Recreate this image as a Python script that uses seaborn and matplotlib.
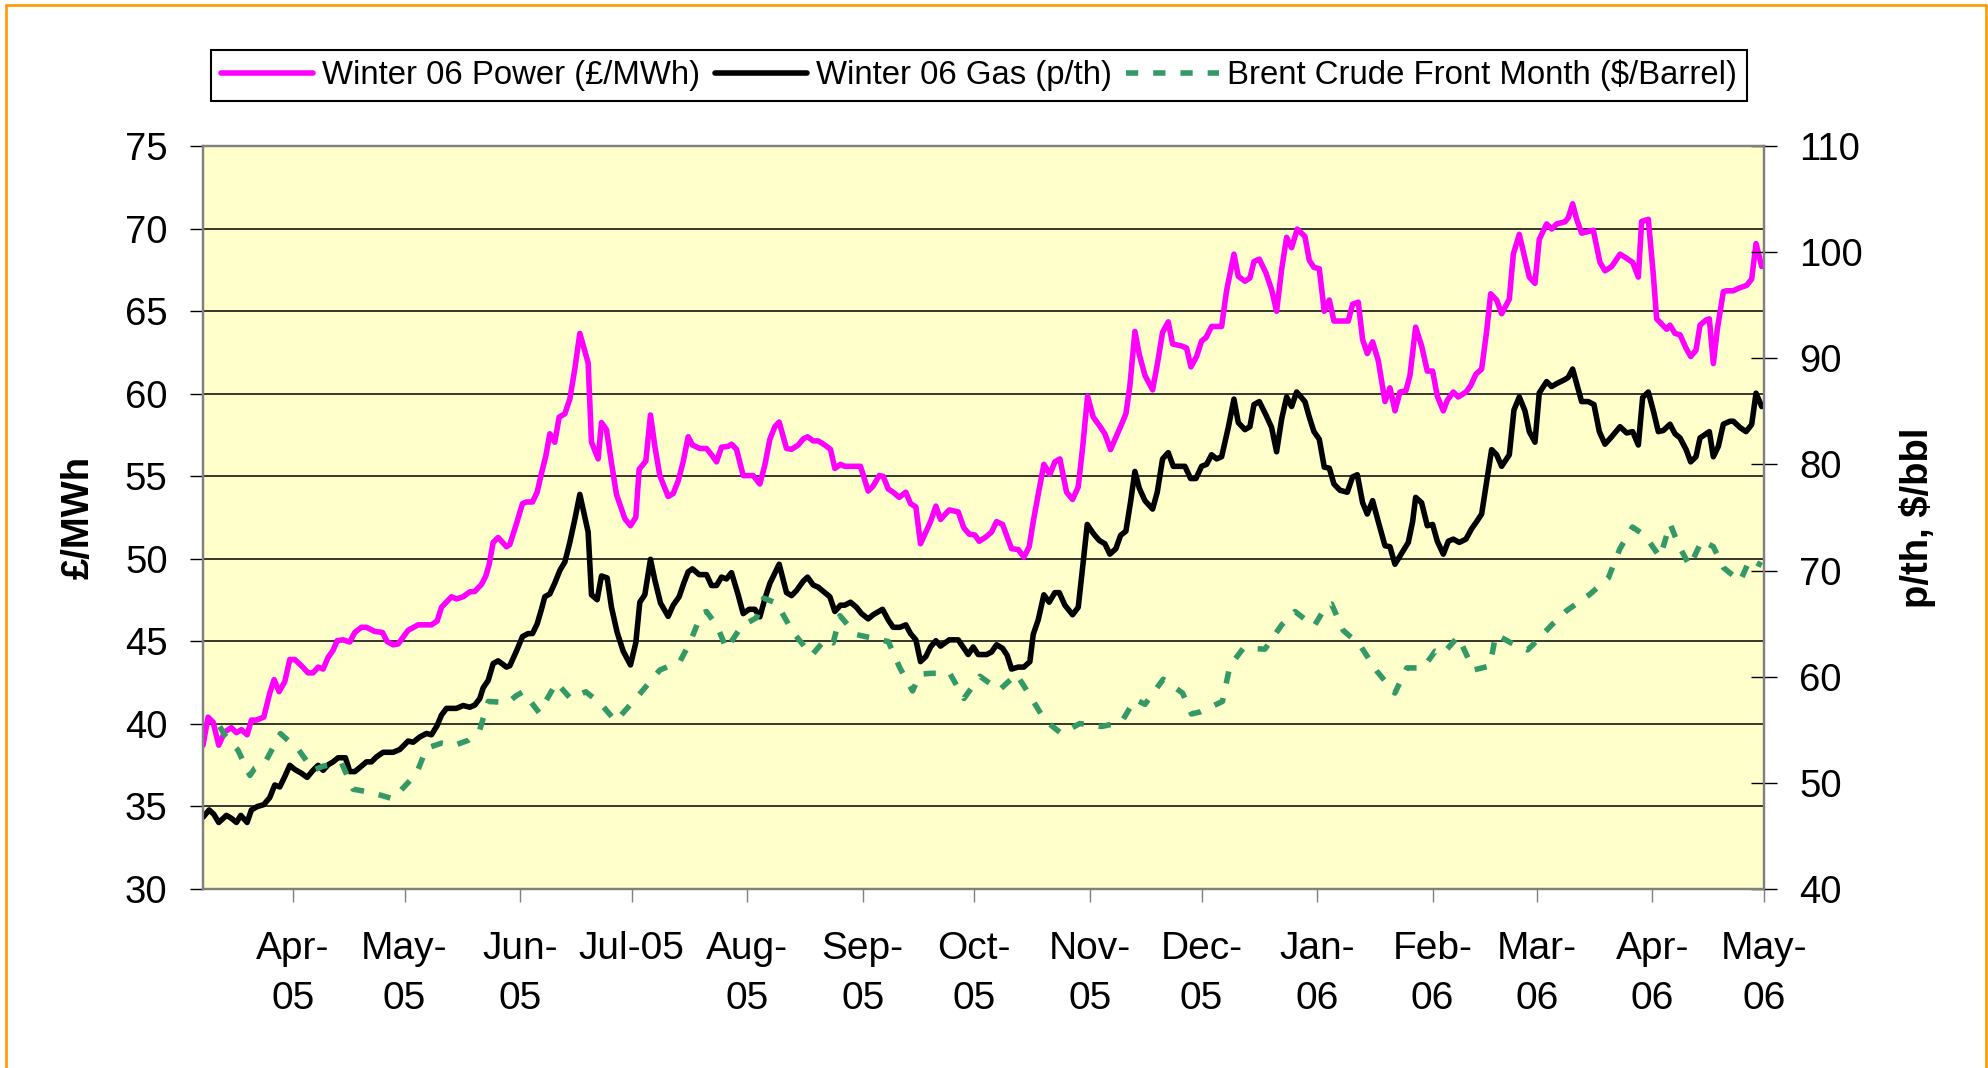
import numpy as np
import pandas as pd
import matplotlib
matplotlib.use("Agg")
import matplotlib.pyplot as plt
import seaborn as sns
from matplotlib.lines import Line2D

# ---- data (day offsets from 2005-04-01, value) ----
ORIGIN = "2005-04-01"

power_points = [
    (-24.1, 38.71), (-22.73, 40.41), (-21.39, 40.10), (-19.87, 38.71), (-18.26, 39.52), (-16.47, 39.77),
    (-15.12, 39.47), (-13.78, 39.65), (-12.26, 39.34), (-11.10, 40.23), (-9.75, 40.23), (-7.78, 40.41),
    (-6.17, 41.87), (-5.01, 42.68), (-3.67, 41.95), (-2.14, 42.56), (-0.80, 43.90), (0.54, 43.90),
    (2.33, 43.52), (4.12, 43.09), (5.46, 43.09), (6.81, 43.44), (8.15, 43.32), (9.49, 44.03),
    (10.83, 44.46), (11.91, 45.04), (13.52, 45.09), (15.31, 44.96), (16.65, 45.54), (18.44, 45.85),
    (19.78, 45.85), (22.02, 45.60), (24.08, 45.54), (25.33, 44.99), (26.95, 44.79), (28.29, 44.84),
    (30.97, 45.67), (33.66, 46.00), (37.24, 46.00), (38.76, 46.23), (39.92, 47.06), (42.61, 47.70),
    (43.95, 47.57), (45.74, 47.70), (47.53, 48.00), (48.87, 48.02), (50.67, 48.45), (51.83, 48.96),
    (52.72, 49.65), (53.80, 50.99), (55.14, 51.29), (57.38, 50.73),
    (58.27, 50.86), (60.06, 52.13), (61.67, 53.34), (62.75, 53.44), (64.36, 53.44), (65.61, 54.03),
    (66.77, 55.17), (67.94, 56.23), (69.01, 57.57), (70.35, 57.06), (71.52, 58.58), (73.04, 58.78),
    (74.38, 59.67), (75.72, 61.49), (77.07, 63.65), (79.30, 61.87), (80.20, 57.06), (81.99, 56.05),
    (82.88, 58.25), (84.23, 57.82), (85.57, 55.80), (86.91, 53.90), (89.15, 52.43), (90.67, 52.00),
    (92.10, 52.51), (93.00, 55.42), (94.79, 55.92), (96.04, 58.71), (97.21, 56.81), (98.55, 55.04),
    (100.79, 53.77), (102.13, 53.95), (103.47, 54.71), (104.81, 55.87), (106.16, 57.39), (107.32, 56.89),
    (109.29, 56.68), (111.08, 56.68), (112.42, 56.30), (113.77, 55.87), (115.11, 56.76), (116.90, 56.81),
    (117.79, 56.94), (119.14, 56.63), (120.93, 55.04), (123.61, 55.04), (125.40, 54.53), (126.74, 55.67),
    (128.09, 57.24), (129.43, 58.00), (130.59, 58.28), (132.56, 56.68), (133.91, 56.63), (135.70, 56.89),
    (137.04, 57.26), (138.20, 57.39), (139.73, 57.14), (141.07, 57.14),
    (142.85, 56.89), (144.37, 56.63), (145.54, 55.47), (147.06, 55.72), (148.22, 55.60), (152.43, 55.60),
    (154.49, 54.10), (155.83, 54.41), (157.44, 55.04), (158.52, 54.99), (159.86, 54.23), (161.20, 54.03),
    (162.81, 53.72), (164.60, 54.03), (165.86, 53.34), (167.29, 53.14), (168.54, 50.91), (169.97, 51.62),
    (171.23, 52.25), (172.66, 53.19), (173.91, 52.38), (176.24, 52.96), (178.66, 52.84), (180.18, 51.87),
    (181.61, 51.49), (183.13, 51.44), (184.30, 51.06), (186.09, 51.32), (187.61, 51.62), (188.95, 52.25),
    (190.56, 52.08), (192.98, 50.61), (194.77, 50.56), (196.29, 50.10), (197.72, 50.73), (198.80, 52.25),
    (200.14, 53.90), (201.66, 55.72), (203.27, 55.11), (204.61, 55.87), (205.96, 56.05), (207.75, 54.03),
    (209.36, 53.59), (210.88, 54.35), (212.04, 56.68), (213.39, 59.85), (214.91, 58.58), (216.52, 58.08),
    (218.04, 57.57), (219.56, 56.61), (221.17, 57.44), (222.52, 58.15), (223.68, 58.78), (224.75, 60.48),
    (226.10, 63.77),
    (227.27, 62.38), (228.79, 61.11), (230.85, 60.23), (232.10, 61.75), (233.53, 63.72), (235.05, 64.35),
    (236.22, 63.01), (238.63, 62.89), (239.98, 62.76), (241.14, 61.62), (242.66, 62.25), (244.00, 63.19),
    (245.17, 63.39), (246.69, 64.07), (249.38, 64.07), (250.72, 66.25), (252.69, 68.45), (253.85, 67.11),
    (255.64, 66.81), (256.98, 67.01), (258.06, 68.00), (259.49, 68.15), (261.28, 67.31), (262.80, 66.30),
    (264.14, 64.99), (265.49, 67.52), (266.83, 69.47), (268.17, 68.84), (269.69, 69.97), (271.75, 69.52),
    (272.92, 68.07), (274.17, 67.65), (275.60, 67.57), (276.94, 64.99), (278.29, 65.67), (279.54, 64.40),
    (283.39, 64.40), (284.55, 65.42), (286.07, 65.54), (287.24, 63.27), (288.49, 62.43), (289.92, 63.14),
    (291.44, 62.00), (293.24, 59.52), (294.58, 60.35), (295.92, 58.96), (297.27, 60.10), (298.87, 60.18),
    (299.95, 61.11), (301.47, 64.03), (303.08, 62.89), (304.60, 61.37), (306.03, 61.37), (307.29, 59.85),
    (308.90, 58.96), (309.97, 59.60), (311.58, 60.10), (312.92, 59.80), (314.98, 60.10), (316.23, 60.48),
    (317.67, 61.19), (319.19, 61.49), (320.53, 63.77), (321.61, 66.05), (323.22, 65.67), (324.56, 64.84),
    (326.62, 65.72), (327.69, 68.45), (329.30, 69.65), (330.82, 68.20), (331.99, 67.06), (333.51, 66.68),
    (334.67, 69.35), (336.64, 70.28), (337.99, 69.97), (339.33, 70.28), (341.57, 70.41), (342.46, 70.66),
    (343.62, 71.50), (344.70, 70.56), (346.04, 69.72), (349.17, 69.90), (350.96, 67.95), (352.31, 67.44),
    (354.10, 67.70), (356.34, 68.45), (358.13, 68.20), (359.74, 67.95), (361.26, 67.06), (362.15, 70.43),
    (363.94, 70.56), (365.29, 67.19), (366.18, 64.53), (367.79, 64.15), (368.87, 63.90), (369.76, 64.15),
    (371.10, 63.65), (372.45, 63.57), (374.06, 62.76), (375.31, 62.25), (376.74, 62.63), (377.82, 64.15),
    (379.43, 64.46), (380.32, 64.53), (381.40, 61.82), (382.47, 63.90), (384.08, 66.18), (384.98, 66.23),
    (386.77, 66.23), (388.11, 66.38), (390.35, 66.56), (391.69, 66.94), (392.86, 69.09), (394.38, 67.70),
]

gas_points = [
    (-24.07, 34.35), (-22.46, 34.79), (-21.21, 34.53), (-19.87, 34.03), (-17.81, 34.46), (-16.47, 34.28),
    (-15.12, 34.03), (-13.96, 34.46), (-12.26, 34.03), (-11.10, 34.79), (-9.57, 34.99), (-7.78, 35.11),
    (-6.17, 35.54), (-4.83, 36.30), (-3.49, 36.18), (-2.14, 36.81), (-0.80, 37.49), (0.54, 37.24),
    (2.33, 37.01), (3.85, 36.76), (5.46, 37.19), (6.81, 37.49), (8.15, 37.19), (9.49, 37.52),
    (10.83, 37.70), (12.18, 37.95), (14.14, 37.95), (15.31, 37.11), (16.65, 37.11), (18.44, 37.44),
    (19.78, 37.70), (21.13, 37.70), (22.47, 38.00), (24.26, 38.28), (26.95, 38.28), (28.74, 38.45),
    (30.97, 38.96), (32.32, 38.89), (34.11, 39.21), (35.90, 39.42), (37.24, 39.34), (38.76, 39.90),
    (39.92, 40.53), (41.27, 40.94), (43.95, 40.94), (45.74, 41.11), (47.53, 41.01), (48.87, 41.14),
    (50.22, 41.54), (51.11, 42.18), (52.46, 42.63), (53.80, 43.65), (55.14, 43.82), (57.38, 43.44),
    (58.27, 43.52), (60.06, 44.41), (61.67, 45.29), (63.19, 45.47), (64.36, 45.47), (65.61, 46.05),
    (66.77, 46.94), (67.67, 47.70), (69.01, 47.87), (70.35, 48.53), (71.70, 49.29), (73.04, 49.80),
    (74.38, 50.99), (75.72, 52.38), (77.07, 53.90), (79.30, 51.62), (80.20, 47.82), (81.72, 47.52),
    (82.88, 48.96), (84.41, 48.84), (85.57, 47.06), (87.09, 45.54), (88.70, 44.41), (90.67, 43.57),
    (92.10, 44.91), (93.18, 47.37), (94.52, 47.82), (96.04, 49.97), (97.21, 48.71), (98.73, 47.32),
    (100.79, 46.51), (102.13, 47.19), (103.74, 47.70), (104.99, 48.53), (106.16, 49.21), (107.32, 49.39),
    (109.11, 49.04), (111.08, 49.04), (112.42, 48.38), (113.77, 48.38), (115.11, 48.89), (116.45, 48.78),
    (117.79, 49.16), (119.58, 47.82), (120.93, 46.68), (122.54, 46.94), (124.06, 46.94), (125.40, 46.48),
    (126.74, 47.57), (128.09, 48.51), (129.43, 49.14), (130.59, 49.67), (132.56, 47.95), (133.91, 47.77),
    (135.25, 48.08), (137.04, 48.64), (138.20, 48.89), (139.73, 48.41), (141.07, 48.28),
    (144.20, 47.70), (145.54, 46.81), (147.06, 47.19), (148.22, 47.19), (149.74, 47.37), (151.36, 47.06),
    (152.70, 46.68), (154.49, 46.36), (155.83, 46.61), (158.34, 46.94), (159.86, 46.30), (161.20, 45.85),
    (163.00, 45.85), (164.60, 46.00), (165.86, 45.47), (167.29, 45.09), (168.54, 43.77), (169.97, 44.08),
    (171.23, 44.66), (172.66, 45.04), (173.91, 44.71), (176.24, 45.09), (178.66, 45.09), (180.18, 44.58),
    (181.34, 44.20), (182.68, 44.66), (184.03, 44.20), (186.27, 44.20), (187.61, 44.35), (188.95, 44.79),
    (190.56, 44.58), (191.81, 44.15), (192.98, 43.32), (194.77, 43.44), (196.29, 43.44), (197.90, 43.77),
    (198.80, 45.42), (200.14, 46.30), (201.66, 47.82), (203.09, 47.37), (204.61, 47.95), (205.78, 47.95),
    (207.30, 47.19), (209.36, 46.61), (210.88, 47.06), (212.22, 49.80), (213.30, 52.08), (214.91, 51.54),
    (216.52, 51.11), (218.04, 50.91), (219.38, 50.28), (220.99, 50.61), (222.25, 51.42), (223.68, 51.67),
    (224.93, 53.44), (226.10, 55.29),
    (227.27, 54.28), (228.79, 53.52), (230.85, 53.01), (232.10, 54.03), (233.53, 56.05), (235.05, 56.43),
    (236.40, 55.60), (239.53, 55.60), (241.05, 54.86), (242.48, 54.86), (244.00, 55.60), (245.35, 55.72),
    (246.69, 56.30), (248.03, 56.05), (249.38, 56.18), (251.17, 57.95), (252.69, 59.67), (253.85, 58.25),
    (255.64, 57.82), (256.98, 58.00), (258.06, 59.34), (259.49, 59.52), (261.28, 58.71), (262.80, 57.95),
    (264.14, 56.48), (265.49, 58.46), (266.83, 59.80), (268.17, 59.22), (269.52, 60.10), (271.75, 59.52),
    (272.92, 58.58), (274.17, 57.70), (275.60, 57.24), (276.94, 55.55), (278.29, 55.49), (279.54, 54.53),
    (281.15, 54.15), (283.12, 54.03), (284.55, 54.96), (285.81, 55.09), (287.24, 53.39), (288.49, 52.71),
    (289.92, 53.52), (291.44, 52.25), (293.24, 50.79), (294.58, 50.73), (295.92, 49.67), (297.44, 50.23),
    (299.50, 50.99), (300.66, 52.25), (301.47, 53.72), (303.08, 53.39), (304.60, 52.00), (306.03, 52.08),
    (307.29, 51.06),
    (308.90, 50.28), (310.24, 51.06), (311.58, 51.19), (313.19, 50.99), (314.98, 51.19), (316.50, 51.82),
    (317.85, 52.25), (319.19, 52.71), (320.53, 54.66), (321.87, 56.61), (323.22, 56.30), (324.56, 55.60),
    (326.62, 56.30), (327.87, 59.01), (329.30, 59.80), (330.82, 58.96), (331.99, 57.70), (333.51, 57.06),
    (334.67, 60.05), (336.64, 60.73), (337.99, 60.43), (339.33, 60.61), (341.57, 60.86), (342.46, 60.99),
    (343.62, 61.49), (344.70, 60.61), (346.04, 59.52), (347.83, 59.52), (349.35, 59.34), (350.79, 57.70),
    (352.31, 56.94), (354.10, 57.39), (356.34, 58.00), (358.13, 57.62), (359.74, 57.70), (361.26, 56.89),
    (362.42, 59.77), (363.94, 60.10), (365.29, 58.96), (366.63, 57.70), (367.97, 57.77), (369.76, 58.15),
    (371.10, 57.57), (372.45, 57.32), (374.06, 56.63), (375.31, 55.87), (376.74, 56.18), (377.82, 57.32),
    (380.32, 57.70), (381.40, 56.18), (382.74, 56.81), (384.08, 58.15), (385.87, 58.33), (386.77, 58.33),
    (388.56, 57.95), (390.17, 57.70), (391.69, 58.13), (392.86, 60.03), (394.38, 59.22),
]

brent_points = [
    (-19.6, 55.31), (-18.3, 54.52), (-14.7, 53.07), (-11.5, 50.70), (-10.2, 51.37), (-7.5, 51.88),
    (-3.3, 54.64), (1.6, 53.10), (5.5, 51.18), (8.1, 51.57), (13.1, 51.88), (16.2, 49.40),
    (20.7, 49.13), (26.9, 48.50), (33.2, 50.86), (35.9, 53.26), (39.9, 53.74), (43.5, 53.54),
    (47.1, 54.01), (50.2, 55.00), (52.5, 57.67), (57.8, 57.56), (59.9, 58.19),
    (61.85, 58.58), (66.15, 56.61), (70.8, 59.45), (74.56, 57.95), (78.68, 58.58), (82.62, 57.48),
    (86.7, 55.80), (93.36, 58.46), (98.55, 60.63), (103.92, 61.42), (106.6, 63.19), (109.74, 65.95),
    (111.08, 66.14), (113.95, 64.77), (116.45, 62.60), (120.48, 64.77), (124.5, 65.55), (126.47, 67.40),
    (129.88, 66.93), (134.35, 64.17), (139.3, 62.01), (143.13, 63.58),
    (145.1, 63.19), (146.9, 65.75), (151.2, 63.98), (156.3, 63.58), (159.9, 63.31), (163.0, 60.83),
    (166.4, 58.66), (168.4, 60.24), (171.5, 60.32), (176.4, 60.32), (180.2, 57.95), (184.5, 60.04),
    (189.7, 58.74), (194.3, 60.24), (197.5, 58.46), (201.9, 55.90), (206.4, 54.64), (211.3, 55.59),
    (217.1, 55.31), (222.5, 55.71), (226.1, 57.87),
    (228.8, 57.40), (233.7, 59.76), (238.9, 58.46), (241.3, 56.49), (243.7, 56.69), (249.6, 57.67),
    (251.6, 61.02), (255.2, 62.68), (261.0, 62.60), (265.5, 64.88), (269.1, 66.14), (274.2, 64.76),
    (277.6, 66.73), (278.9, 66.85), (282.0, 64.37), (286.5, 62.99), (291.0, 60.55), (295.9, 58.46),
    (299.1, 60.83), (303.5, 60.83), (306.7, 62.40),
    (308.7, 62.13), (312.9, 63.78), (317.0, 60.63), (321.4, 61.02), (323.0, 63.98), (328.1, 62.99),
    (331.5, 62.52), (332.9, 62.99), (338.0, 64.88), (342.0, 66.22), (348.1, 67.72), (353.2, 69.29),
    (356.3, 72.05), (359.7, 74.10), (363.0, 73.31), (367.1, 71.26), (369.8, 74.41), (372.0, 72.44),
    (375.1, 70.40), (378.3, 72.84), (381.4, 72.25), (384.1, 70.28), (388.6, 68.98), (391.2, 71.07),
    (394.4, 70.48),
]

month_ticks = ["2005-04-01", "2005-05-01", "2005-06-01", "2005-07-01", "2005-08-01", "2005-09-01",
               "2005-10-01", "2005-11-01", "2005-12-01", "2006-01-01", "2006-02-01", "2006-03-01",
               "2006-04-01", "2006-05-01"]
month_labels = ["Apr-\n05", "May-\n05", "Jun-\n05", "Jul-05", "Aug-\n05", "Sep-\n05", "Oct-\n05",
                "Nov-\n05", "Dec-\n05", "Jan-\n06", "Feb-\n06", "Mar-\n06", "Apr-\n06", "May-\n06"]
left_ticks = [30, 35, 40, 45, 50, 55, 60, 65, 70, 75]
right_ticks = [40, 50, 60, 70, 80, 90, 100, 110]
series_labels = ["Winter 06 Power (£/MWh)", "Winter 06 Gas (p/th)", "Brent Crude Front Month ($/Barrel)"]
left_label = "£/MWh"
right_label = "p/th, $/bbl"


def to_frame(points):
    df = pd.DataFrame(points, columns=["day", "value"])
    df["date"] = pd.Timestamp(ORIGIN) + pd.to_timedelta(df["day"], unit="D")
    return df


power = to_frame(power_points)
gas = to_frame(gas_points)
brent = to_frame(brent_points)

sns.set_theme(style="white")
plt.rcParams["font.family"] = ["Liberation Sans", "DejaVu Sans"]
plt.rcParams["text.color"] = "black"
plt.rcParams["xtick.labelcolor"] = "black"
plt.rcParams["ytick.labelcolor"] = "black"

W, H = 1988, 1068
fig = plt.figure(figsize=(W / 100, H / 100), dpi=100)
fig.patch.set_facecolor("white")

x0, x1, y0, y1 = 203, 1764, 146, 889
ax = fig.add_axes([x0 / W, 1 - y1 / H, (x1 - x0) / W, (y1 - y0) / H])
ax.set_facecolor("#FFFFCC")
ax2 = ax.twinx()

LW = 4.0
sns.lineplot(data=power, x="date", y="value", ax=ax, color="#FF00FF", linewidth=LW,
             estimator=None, zorder=3)
sns.lineplot(data=gas, x="date", y="value", ax=ax, color="black", linewidth=LW,
             estimator=None, zorder=3)
sns.lineplot(data=brent, x="date", y="value", ax=ax2, color="#339966", linewidth=LW,
             estimator=None, linestyle=(0, (2.2, 2.7)), zorder=3)

xmin = pd.Timestamp(ORIGIN) + pd.Timedelta(days=-24.1)
xmax = pd.Timestamp("2006-05-01")
ax.set_xlim(xmin, xmax)
ax.set_ylim(30, 75)
ax2.set_ylim(40, 110)

ax.set_yticks(left_ticks)
ax.set_yticklabels([str(v) for v in left_ticks])
ax2.set_yticks(right_ticks)
ax2.set_yticklabels([str(v) for v in right_ticks])
ax.set_xticks(pd.to_datetime(month_ticks))
ax.set_xticklabels(month_labels)

ax.yaxis.grid(True, color="black", linewidth=1.1)
ax.xaxis.grid(False)
ax.set_axisbelow(True)

ax.set_xlabel("")
ax.set_ylabel("")
ax2.set_ylabel("")

for a in (ax, ax2):
    for s in a.spines.values():
        s.set_color("#808080")
        s.set_linewidth(1.6)

ax.tick_params(axis="y", which="major", left=True, direction="out", length=9.5, width=1.0,
               color="black", labelcolor="black", labelsize=27.5, pad=16)
ax.tick_params(axis="x", which="major", bottom=True, direction="out", length=9.5, width=1.0,
               color="#808080", labelcolor="black", labelsize=28, pad=21)
ax2.tick_params(axis="y", which="major", right=True, direction="inout", length=19, width=1.0,
                color="black", labelcolor="black", labelsize=27.5, pad=16)
for t in ax.get_xticklabels():
    t.set_linespacing(1.48)

fig.text(79 / W, 1 - 517.5 / H, left_label, rotation=90, ha="center", va="center",
         fontsize=27.5, fontweight="bold", color="black")
fig.text(1917 / W, 1 - 517.5 / H, right_label, rotation=90, ha="center", va="center",
         fontsize=27.5, fontweight="bold", color="black")

handles = [ax.lines[0], ax.lines[1], ax2.lines[0]]
leg = fig.legend(handles, series_labels, loc="center", bbox_to_anchor=(979 / W, 1 - 75.5 / H),
                 ncol=3, fontsize=23.7, frameon=True, fancybox=False, edgecolor="black",
                 facecolor="white", framealpha=1, handlelength=2.8, handletextpad=0.27,
                 columnspacing=0.45, borderpad=0.3, labelcolor="black")
leg.get_frame().set_linewidth(1.5)

orange = "#FF9900"
lw_b = 1.9
fig.add_artist(Line2D([5.5 / W, 5.5 / W], [0, 1 - 5 / H], color=orange, lw=lw_b, transform=fig.transFigure))
fig.add_artist(Line2D([1985.5 / W, 1985.5 / W], [0, 1 - 5 / H], color=orange, lw=lw_b, transform=fig.transFigure))
fig.add_artist(Line2D([5.5 / W, 1985.5 / W], [1 - 5 / H, 1 - 5 / H], color=orange, lw=lw_b, transform=fig.transFigure))

fig.savefig("out.png", dpi=100, facecolor="white")
